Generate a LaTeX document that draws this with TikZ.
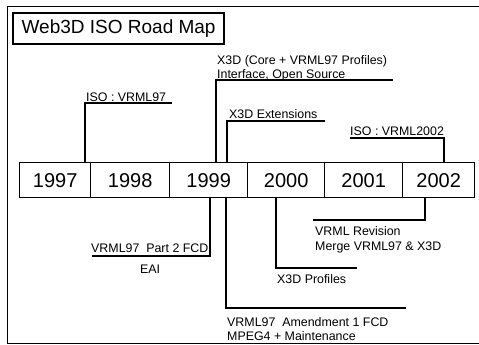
\documentclass[tikz,border=0pt]{standalone}
\usepackage{fontspec}
\setmainfont{Liberation Sans}
\begin{document}
\begin{tikzpicture}[x=1pt,y=-1pt,
  yearbox/.style={draw,line width=1.3pt,minimum height=35pt,inner sep=0pt,font=\fontsize{20}{20}\selectfont,anchor=north west},
  lbl/.style={inner sep=0pt,anchor=base west,font=\fontsize{12.4}{14}\selectfont},
  conn/.style={line width=1.6pt},
  framel/.style={line width=1pt}]
\useasboundingbox (0,0) rectangle (479,345);
% frame
\coordinate (ftr) at (479,7);
\coordinate (ftl) at (7,7);
\coordinate (fbl) at (7,343);
\coordinate (fbr) at (479,343);
\draw[framel] (ftr) -- (ftl) -- (fbl) -- (fbr);
% title
\node[draw,line width=2.2pt,minimum width=211pt,minimum height=31pt,inner sep=0pt,anchor=north west,font=\fontsize{19}{19}\selectfont] (title) at (12,12) {Web3D ISO Road Map};
% years
\node[yearbox,minimum width=71pt] (y1997) at (19,162) {1997};
\node[yearbox,minimum width=79pt] (y1998) at (90,162) {1998};
\node[yearbox,minimum width=78pt] (y1999) at (169,162) {1999};
\node[yearbox,minimum width=77pt] (y2000) at (247,162) {2000};
\node[yearbox,minimum width=78pt] (y2001) at (324,162) {2001};
\node[yearbox,minimum width=72pt] (y2002) at (402,162) {2002};
% labels above
\node[lbl] (iso97) at (86,101) {ISO : VRML97};
\node[lbl] (x3da) at (217,65) {X3D (Core + VRML97 Profiles)};
\node[lbl] (x3db) at (217,78) {Interface, Open Source};
\node[lbl] (x3dext) at (229,118) {X3D Extensions};
\node[lbl] (iso02) at (350,135) {ISO : VRML2002};
% labels below
\node[lbl] (part2) at (91,252) {VRML97\ \ Part 2 FCD};
\node[lbl] (eai) at (140,273) {EAI};
\node[lbl] (amd) at (227,326) {VRML97\ \ Amendment 1 FCD};
\node[lbl] (mpeg) at (227,340) {MPEG4 + Maintenance};
\node[lbl] (prof) at (277,283) {X3D Profiles};
\node[lbl] (rev) at (315,235) {VRML Revision};
\node[lbl] (merge) at (315,250) {Merge VRML97 \& X3D};
% connector corners
\coordinate (c1) at (85,103);   \coordinate (e1) at (172,103);
\coordinate (c2) at (216,80);   \coordinate (e2) at (393,80);
\coordinate (c3) at (227,121);  \coordinate (e3) at (325,121);
\coordinate (c4) at (444,138);  \coordinate (e4) at (350,138);
\coordinate (c5) at (210,256);  \coordinate (e5) at (92,256);
\coordinate (c6) at (226,308);  \coordinate (e6) at (406,308);
\coordinate (c7) at (276,268);  \coordinate (e7) at (357,268);
\coordinate (c8) at (425,220);  \coordinate (e8) at (313,220);
% connectors
\draw[conn] (c1 |- y1997.north) -- (c1) -- (e1);
\draw[conn] (c2 |- y1999.north) -- (c2) -- (e2);
\draw[conn] (c3 |- y1999.north) -- (c3) -- (e3);
\draw[conn] (c4 |- y2002.north) -- (c4) -- (e4);
\draw[conn] (c5 |- y1999.south) -- (c5) -- (e5);
\draw[conn] (c6 |- y1999.south) -- (c6) -- (e6);
\draw[conn] (c7 |- y2000.south) -- (c7) -- (e7);
\draw[conn] (c8 |- y2002.south) -- (c8) -- (e8);
\end{tikzpicture}
\end{document}
